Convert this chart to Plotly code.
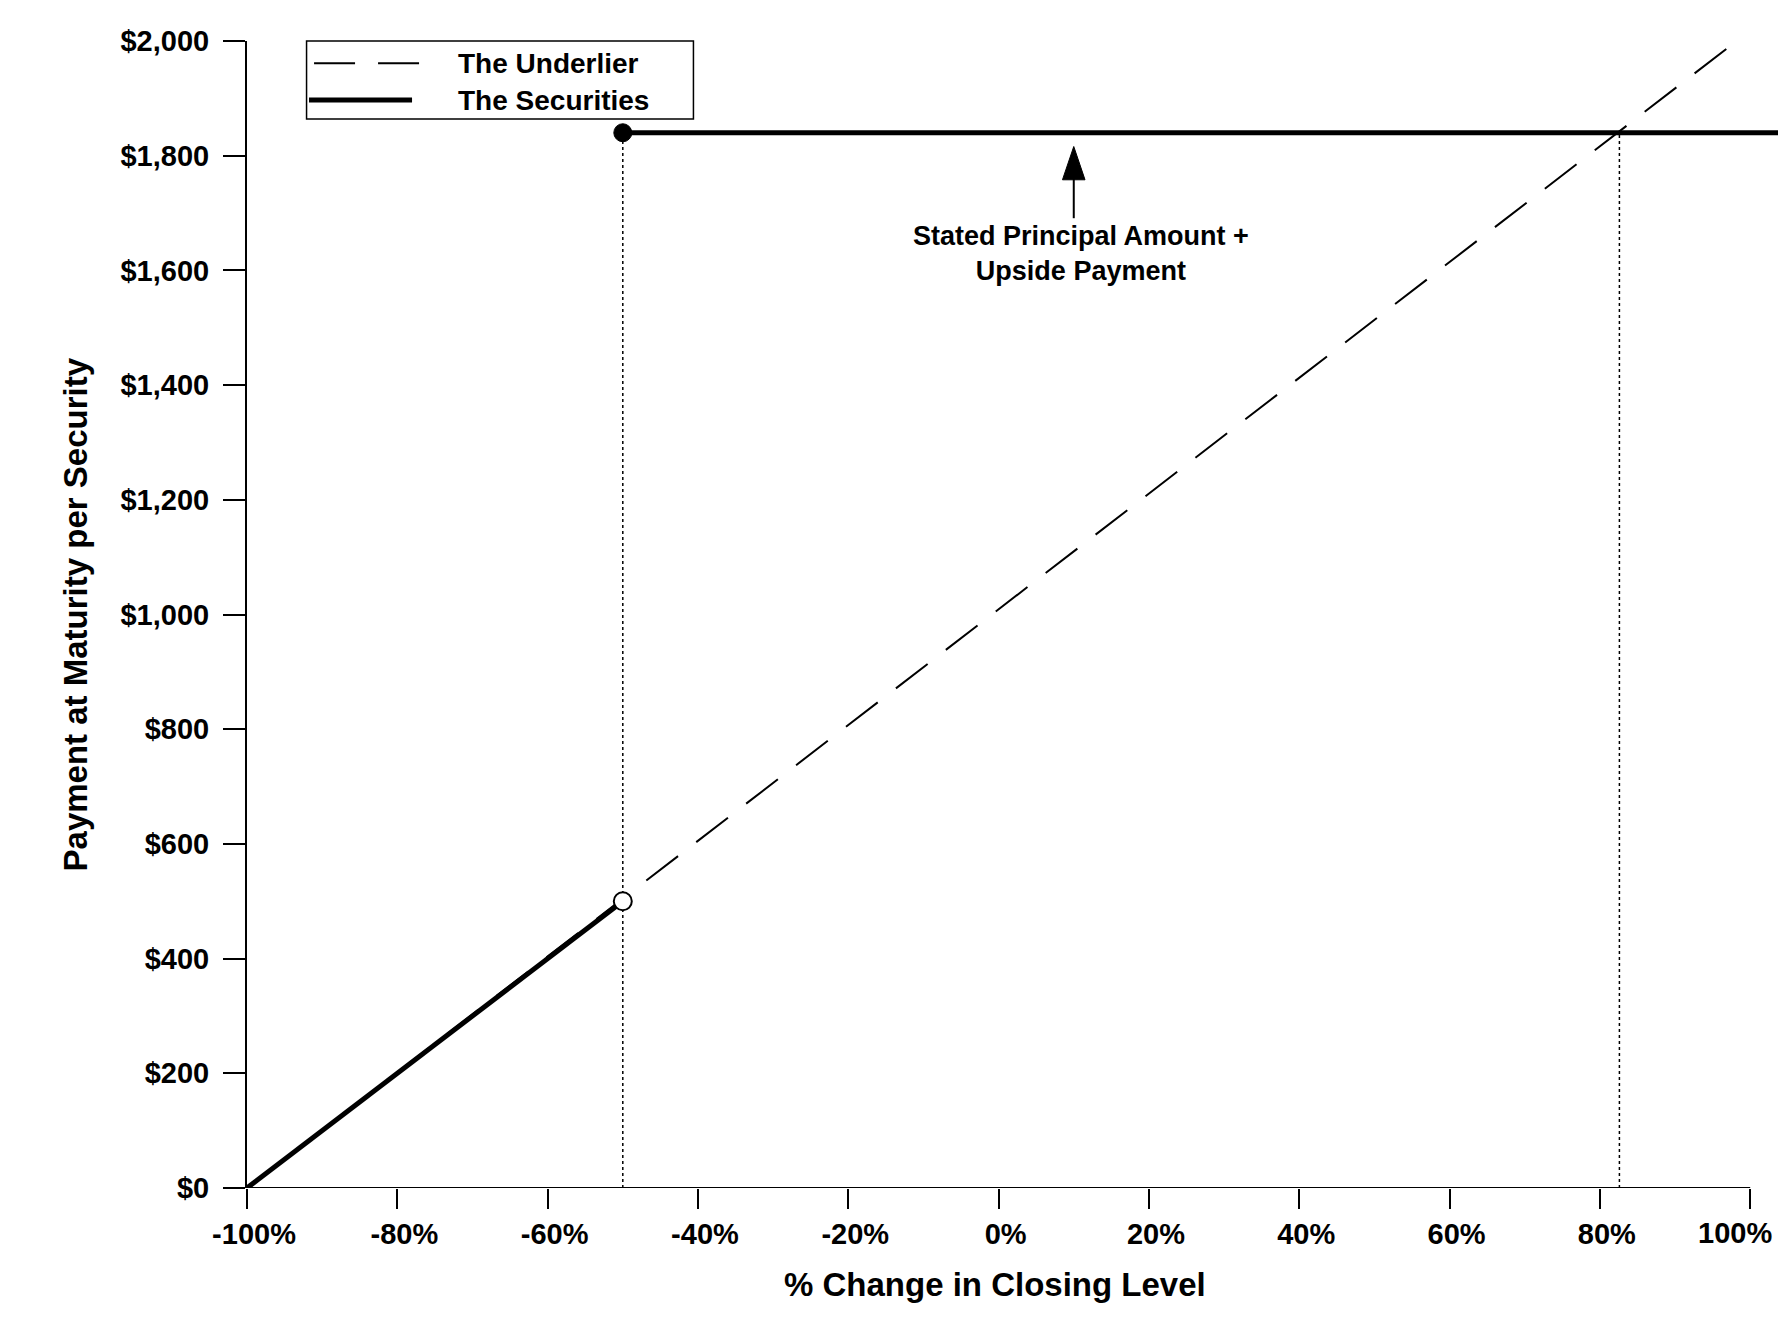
import plotly.graph_objects as go

# ---- data ----
pct_ticks = [-100, -80, -60, -40, -20, 0, 20, 40, 60, 80, 100]
pct_labels = ["-100%", "-80%", "-60%", "-40%", "-20%", "0%", "20%", "40%", "60%", "80%", "100%"]
pay_ticks = [0, 200, 400, 600, 800, 1000, 1200, 1400, 1600, 1800, 2000]
pay_labels = ["$0", "$200", "$400", "$600", "$800", "$1,000", "$1,200", "$1,400", "$1,600", "$1,800", "$2,000"]

underlier_x = [-100, 98.2]
underlier_y = [0, 2000]

securities_x = [-100, -50, None, -50, 104]
securities_y = [0, 500, None, 1840, 1840]

trigger_pct = -50
trigger_low = 500
capped_payment = 1840
breakeven_pct = 82.6

arrow_pct = 10
arrow_tail = 1691
arrow_tip = 1816
annot_text = "Stated Principal Amount +<br>Upside Payment"

FONT = "Arial, 'Liberation Sans', sans-serif"
X_RANGE = [-100, 103.7]

fig = go.Figure()

# underlier (dashed)
fig.add_trace(go.Scatter(x=underlier_x, y=underlier_y, mode="lines",
                         line=dict(color="black", width=2, dash="40px,23px"),
                         name="The Underlier", showlegend=False, hoverinfo="skip"))
# dotted guide lines
fig.add_trace(go.Scatter(x=[trigger_pct, trigger_pct], y=[0, capped_payment], mode="lines",
                         line=dict(color="black", width=1.5, dash="3px,3px"),
                         showlegend=False, hoverinfo="skip"))
fig.add_trace(go.Scatter(x=[breakeven_pct, breakeven_pct], y=[0, capped_payment], mode="lines",
                         line=dict(color="black", width=1.5, dash="3px,3px"),
                         showlegend=False, hoverinfo="skip"))
# securities (solid)
fig.add_trace(go.Scatter(x=securities_x, y=securities_y, mode="lines",
                         line=dict(color="black", width=5),
                         name="The Securities", showlegend=False, hoverinfo="skip"))
# filled circle
fig.add_trace(go.Scatter(x=[trigger_pct], y=[capped_payment], mode="markers",
                         marker=dict(color="black", size=18, line=dict(color="black", width=1)),
                         showlegend=False, hoverinfo="skip", cliponaxis=False))
# open circle
fig.add_trace(go.Scatter(x=[trigger_pct], y=[trigger_low], mode="markers",
                         marker=dict(color="white", size=18, line=dict(color="black", width=2)),
                         showlegend=False, hoverinfo="skip", cliponaxis=False))

shapes = []
# x axis line from -100% to 100%
shapes.append(dict(type="line", xref="x", yref="y", x0=pct_ticks[0], x1=pct_ticks[-1], y0=0, y1=0,
                   line=dict(color="black", width=2), layer="above"))
# arrow shaft and head
shapes.append(dict(type="line", xref="x", yref="y", x0=arrow_pct, x1=arrow_pct,
                   y0=arrow_tail, y1=1762, line=dict(color="black", width=2)))
shapes.append(dict(type="path", xref="x", yref="y",
                   path=f"M {arrow_pct-1.5},1758 L {arrow_pct},{arrow_tip} L {arrow_pct+1.5},1758 Z",
                   fillcolor="black", line=dict(color="black", width=1)))

# manual legend (paper coordinates)
shapes.append(dict(type="rect", xref="paper", yref="paper", x0=0.0389, x1=0.2916, y0=0.932, y1=1.0,
                   line=dict(color="black", width=1.5), fillcolor="white", layer="above"))
shapes.append(dict(type="line", xref="paper", yref="paper", x0=0.0438, x1=0.1128, y0=0.9806, y1=0.9806,
                   line=dict(color="black", width=2, dash="41px,23px"), layer="above"))
shapes.append(dict(type="line", xref="paper", yref="paper", x0=0.0405, x1=0.1078, y0=0.9485, y1=0.9485,
                   line=dict(color="black", width=5), layer="above"))

TICKFONT = dict(family=FONT, size=29, color="black", weight="bold")

annotations = [
    dict(xref="paper", yref="paper", x=0.1362, y=0.9806, xanchor="left", yanchor="middle",
         text="The Underlier", showarrow=False, font=dict(family=FONT, size=28, color="black", weight="bold")),
    dict(xref="paper", yref="paper", x=0.1362, y=0.9485, xanchor="left", yanchor="middle",
         text="The Securities", showarrow=False, font=dict(family=FONT, size=28, color="black", weight="bold")),
    dict(xref="x", yref="y", x=10.9, y=1629, xanchor="center", yanchor="middle",
         text=annot_text, showarrow=False, font=dict(family=FONT, size=27, color="black", weight="bold")),
    dict(xref="paper", yref="paper", x=0.4886, y=-0.0837, xanchor="center", yanchor="middle",
         text="% Change in Closing Level", showarrow=False,
         font=dict(family=FONT, size=33, color="black", weight="bold")),
    dict(xref="paper", yref="paper", x=-0.1117, y=0.5, xanchor="center", yanchor="middle", textangle=-90,
         text="Payment at Maturity per Security", showarrow=False,
         font=dict(family=FONT, size=33, color="black", weight="bold")),
    # last x tick label, pulled inside the figure edge as in the reference
    dict(xref="paper", yref="paper", x=0.9974, y=-0.0392, xanchor="right", yanchor="middle",
         text=pct_labels[-1], showarrow=False, font=TICKFONT),
]

fig.update_layout(
    width=1781, height=1324, autosize=False,
    margin=dict(l=247, r=3, t=41, b=136),
    paper_bgcolor="white", plot_bgcolor="white",
    showlegend=False,
    shapes=shapes, annotations=annotations,
    font=dict(family=FONT, color="black"),
)
fig.update_xaxes(range=X_RANGE, showgrid=False, zeroline=False, showline=False, automargin=False,
                 tickmode="array", tickvals=pct_ticks, ticktext=pct_labels[:-1] + [""],
                 ticks="outside", ticklen=20, tickwidth=2, tickcolor="black",
                 ticklabelshift=7,
                 tickfont=TICKFONT)
fig.update_yaxes(range=[0, 2000], showgrid=False, zeroline=False, showline=True, linecolor="black", linewidth=2,
                 automargin=False,
                 tickmode="array", tickvals=pay_ticks, ticktext=pay_labels,
                 ticks="outside", ticklen=22, tickwidth=2, tickcolor="black", ticklabelstandoff=8,
                 tickfont=TICKFONT)

fig.write_html("out.html",
               config={"responsive": False, "displayModeBar": False},
               post_script="document.body.style.margin='0';document.body.style.overflow='hidden';")
